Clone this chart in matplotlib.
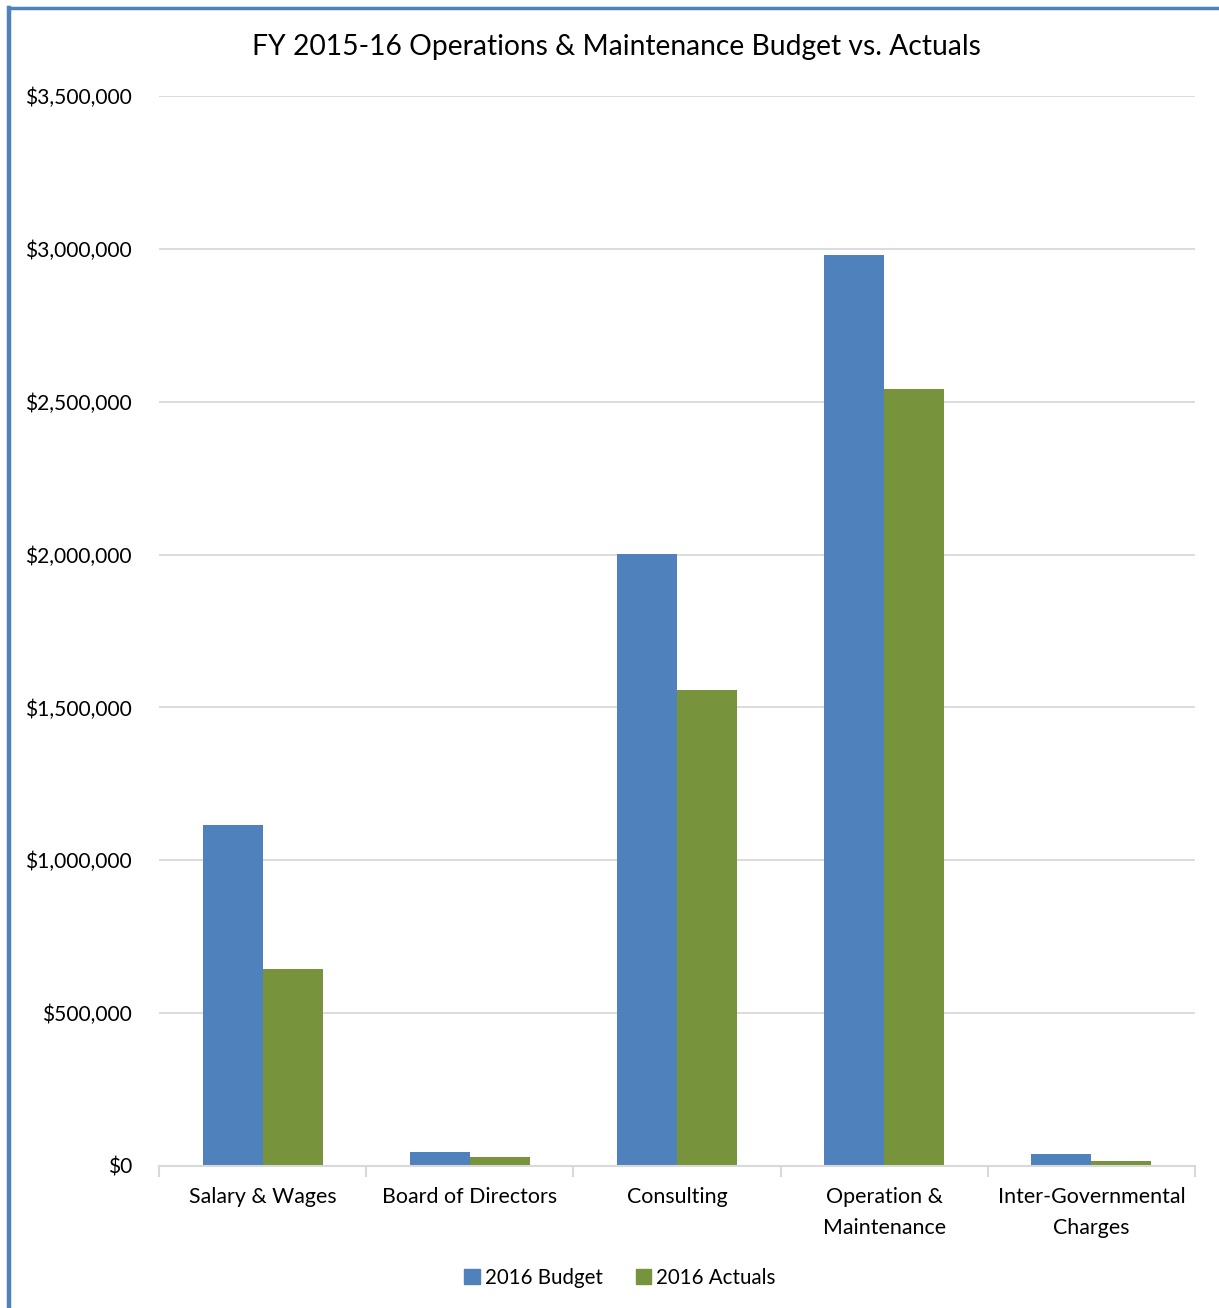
import matplotlib
matplotlib.use("Agg")
import matplotlib.pyplot as plt
import numpy as np
from matplotlib.ticker import FuncFormatter, FixedLocator
from matplotlib.patches import Rectangle
from matplotlib.lines import Line2D

categories = ["Salary & Wages", "Board of Directors", "Consulting", "Operation &\nMaintenance", "Inter-Governmental\nCharges"]
budget = [1115000, 45000, 2002000, 2980000, 39000]
actuals = [644000, 30000, 1557000, 2542000, 16000]
series_names = ["2016 Budget", "2016 Actuals"]
title = "FY 2015-16 Operations & Maintenance Budget vs. Actuals"

blue = "#4F81BD"
green = "#77933C"
grid_c = "#D9D9D9"

plt.rcParams['font.family'] = ['Lato', 'DejaVu Sans']

fig = plt.figure(figsize=(12.19, 13.08), dpi=100)
ax = fig.add_axes([159/1219, 1 - 1166/1308, (1195-159)/1219, (1166-96)/1308])

x = np.arange(len(categories))
w = 0.29
ax.bar(x - w/2, budget, w, color=blue, label=series_names[0], zorder=3)
ax.bar(x + w/2, actuals, w, color=green, label=series_names[1], zorder=3)

ax.set_xlim(-0.5, len(categories) - 0.5)
ax.set_ylim(0, 3500000)
ax.yaxis.set_major_locator(FixedLocator(np.arange(0, 3500001, 500000)))
ax.yaxis.set_major_formatter(FuncFormatter(lambda v, p: "${:,.0f}".format(v)))
ax.grid(axis='y', color=grid_c, linewidth=1.3, zorder=0)
for s in ['top', 'right', 'left']:
    ax.spines[s].set_visible(False)
ax.spines['bottom'].set_color(grid_c)
ax.spines['bottom'].set_linewidth(1.5)
ax.spines['bottom'].set_zorder(4)

ax.tick_params(axis='y', length=0, labelsize=15.1, pad=19.5, labelcolor='black')
ax.set_xticks(x)
ax.set_xticklabels(categories, fontsize=15.4, linespacing=1.7)
ax.tick_params(axis='x', length=0, pad=15)
ax.set_xticks(np.arange(-0.5, len(categories), 1.0), minor=True)
ax.tick_params(axis='x', which='minor', length=8, color=grid_c, width=1.5)

fig.text(616/1219, 1 - 47/1308, title, ha='center', va='center', fontsize=20.3)

handles = [Rectangle((0, 0), 1, 1, color=blue), Rectangle((0, 0), 1, 1, color=green)]
fig.legend(handles, series_names, loc='center', bbox_to_anchor=(620/1219, 1 - 1278/1308),
           ncol=2, frameon=False, fontsize=14.8, handlelength=0.75, handleheight=0.75,
           handletextpad=0.25, columnspacing=1.6)

# outer border (left and top)
fig.add_artist(Line2D([9/1219, 9/1219], [0, 1 - 8/1308], transform=fig.transFigure, color=blue, linewidth=3.2))
fig.add_artist(Line2D([9/1219, 1], [1 - 8/1308, 1 - 8/1308], transform=fig.transFigure, color=blue, linewidth=2.5))

fig.savefig("out.png", dpi=100)
